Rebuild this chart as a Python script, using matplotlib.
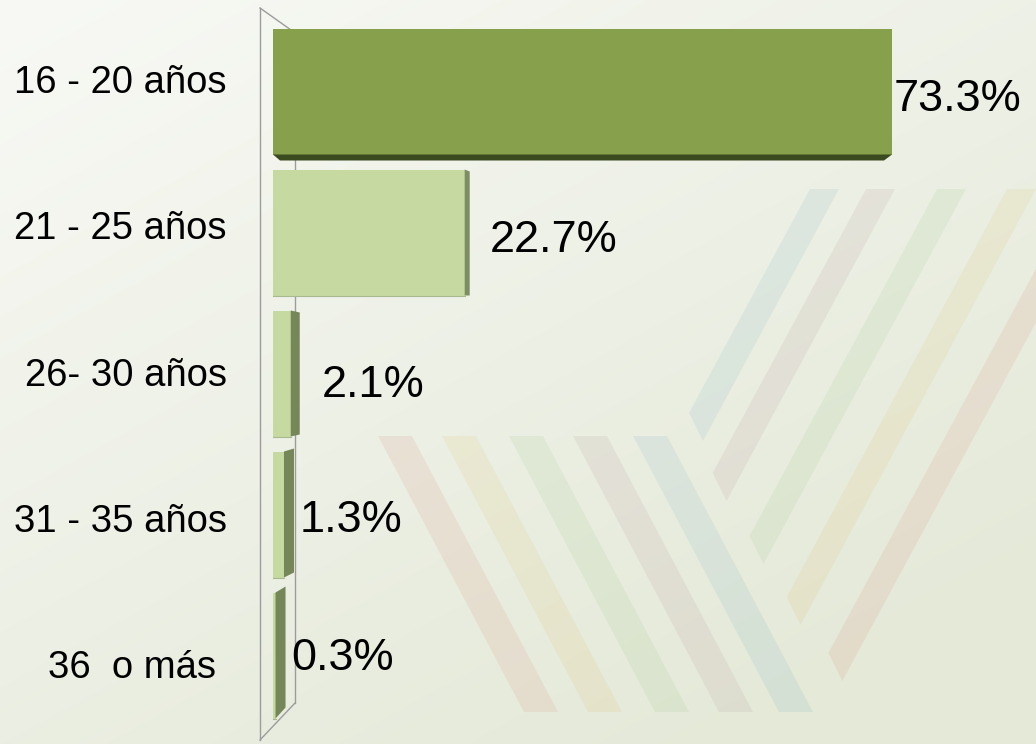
import numpy as np
import matplotlib
matplotlib.use("Agg")
import matplotlib.pyplot as plt
from matplotlib.patches import Polygon
from matplotlib.colors import to_rgb

# ---------------- data ----------------
categories = ["16 - 20 años", "21 - 25 años", "26- 30 años", "31 - 35 años", "36  o más "]
values = [73.3, 22.7, 2.1, 1.3, 0.3]
value_labels = ["73.3%", "22.7%", "2.1%", "1.3%", "0.3%"]

# ---------------- style ----------------
W, H = 1036, 744
FONT = "Liberation Sans"
front_colors = ["#86a04b", "#c5d9a0", "#c5d9a0", "#c5d9a0", "#c5d9a0"]
side_colors = ["#3b4a1f", "#7d8e62", "#758759", "#758759", "#758759"]
# (depth px, top shift px, bottom shift px) of the right side face
side_geom = [None, (5, 2, 0), (9, 2, -2), (10, -3, -5), (10, -6, -11)]
label_gap_px = [2, 25, 31, 16, 16]
label_dy_px = [3, 3, 7, 1, -2]

fig = plt.figure(figsize=(W / 100, H / 100), dpi=100)

# background gradient + decorative stripes (pixel coordinates)
bg = fig.add_axes([0, 0, 1, 1])
bg.set_xlim(0, W)
bg.set_ylim(H, 0)
bg.axis("off")
yy, xx = np.mgrid[0:H, 0:W]
t = np.clip(0.5 * xx / W + 0.65 * yy / H, 0, 1)[..., None]
c0 = np.array(to_rgb("#f8f9f5"))
c1 = np.array(to_rgb("#e4e9d8"))
img = c0 * (1 - t) + c1 * t
bg.imshow(img, extent=(0, W, H, 0), aspect="auto", zorder=0)

ALPHA = 0.14
# stripes running down to the right
down_cols = ["#d98a7a", "#e0bf6a", "#9cc485", "#b8949a", "#7fb0c4"]
down_left = [378, 442, 509, 573, 633]
for c, xl in zip(down_cols, down_left):
    pts = [(xl, 436), (xl + 34, 436), (xl + 34 + 146, 712), (xl + 146, 712)]
    bg.add_patch(Polygon(pts, closed=True, color=c, alpha=ALPHA, lw=0, zorder=1))
# stripes running up to the right (top-left x, bottom-left corner y)
up_cols = ["#7fb0c4", "#b8949a", "#9cc485", "#e0bf6a", "#d98a7a"]
up_left = [810, 866, 937, 1007, 1079]
up_bottom = [413, 473, 536, 597, 653]
for c, xl, yb in zip(up_cols, up_left, up_bottom):
    s = 0.54
    w = 29
    pts = [(xl, 189), (xl + w, 189),
           (xl + w - s * (yb + 28 - 189), yb + 28),
           (xl - s * (yb - 189), yb)]
    bg.add_patch(Polygon(pts, closed=True, color=c, alpha=ALPHA, lw=0, zorder=1))

# wall / axis frame
wall = dict(color="#9c9c9c", lw=1.0, zorder=2)
bg.plot([260, 260], [8, 740], **wall)
bg.plot([260, 291], [8, 30], **wall)
bg.plot([295, 295], [30, 703], **wall)
bg.plot([260, 295], [740, 703], **wall)

# ---------------- main axes ----------------
PX = 619 / 73.3        # pixels per percent
YS = 141.0             # pixels per category
X0 = 273               # pixel of value 0
ax = fig.add_axes([250 / W, 4 / H, (W - 250) / W, 732 / H])
ax.patch.set_alpha(0)
ax.axis("off")
ax.set_xlim(-(X0 - 250) / PX, (W - X0) / PX)
ax.set_ylim((740 - 91.5) / YS, -(91.5 - 8) / YS)

idx = np.arange(len(values))
bh = 126 / YS
ax.barh(idx, values, height=bh, color=front_colors, lw=0, zorder=3)

for i, v in enumerate(values):
    top, bot = i - bh / 2, i + bh / 2
    if side_geom[i] is None:
        # bottom face of the first bar
        d = 6 / YS
        pts = [(0, bot), (v, bot), (v - 8 / PX, bot + d), (7 / PX, bot + d)]
        ax.add_patch(Polygon(pts, closed=True, color=side_colors[i], lw=0, zorder=3))
    else:
        sx, st, sb = side_geom[i]
        pts = [(v, top), (v + sx / PX, top + st / YS), (v + sx / PX, bot + sb / YS), (v, bot)]
        ax.add_patch(Polygon(pts, closed=True, color=side_colors[i], lw=0, zorder=3))
        ax.plot([0, v], [bot, bot], color="#a8b890", lw=0.8, zorder=3)

for i, (v, lab) in enumerate(zip(values, value_labels)):
    ax.text(v + label_gap_px[i] / PX, i + label_dy_px[i] / YS, lab, fontsize=32.5,
            family=FONT, ha="left", va="center_baseline", color="black", zorder=5)

for i, cat in enumerate(categories):
    ax.text((227 - X0) / PX, i + (i - 2) * 5.5 / YS - 2 / YS, cat, fontsize=27.5,
            family=FONT, ha="right", va="center_baseline", color="black", zorder=5)

fig.savefig("out.png", dpi=100)
